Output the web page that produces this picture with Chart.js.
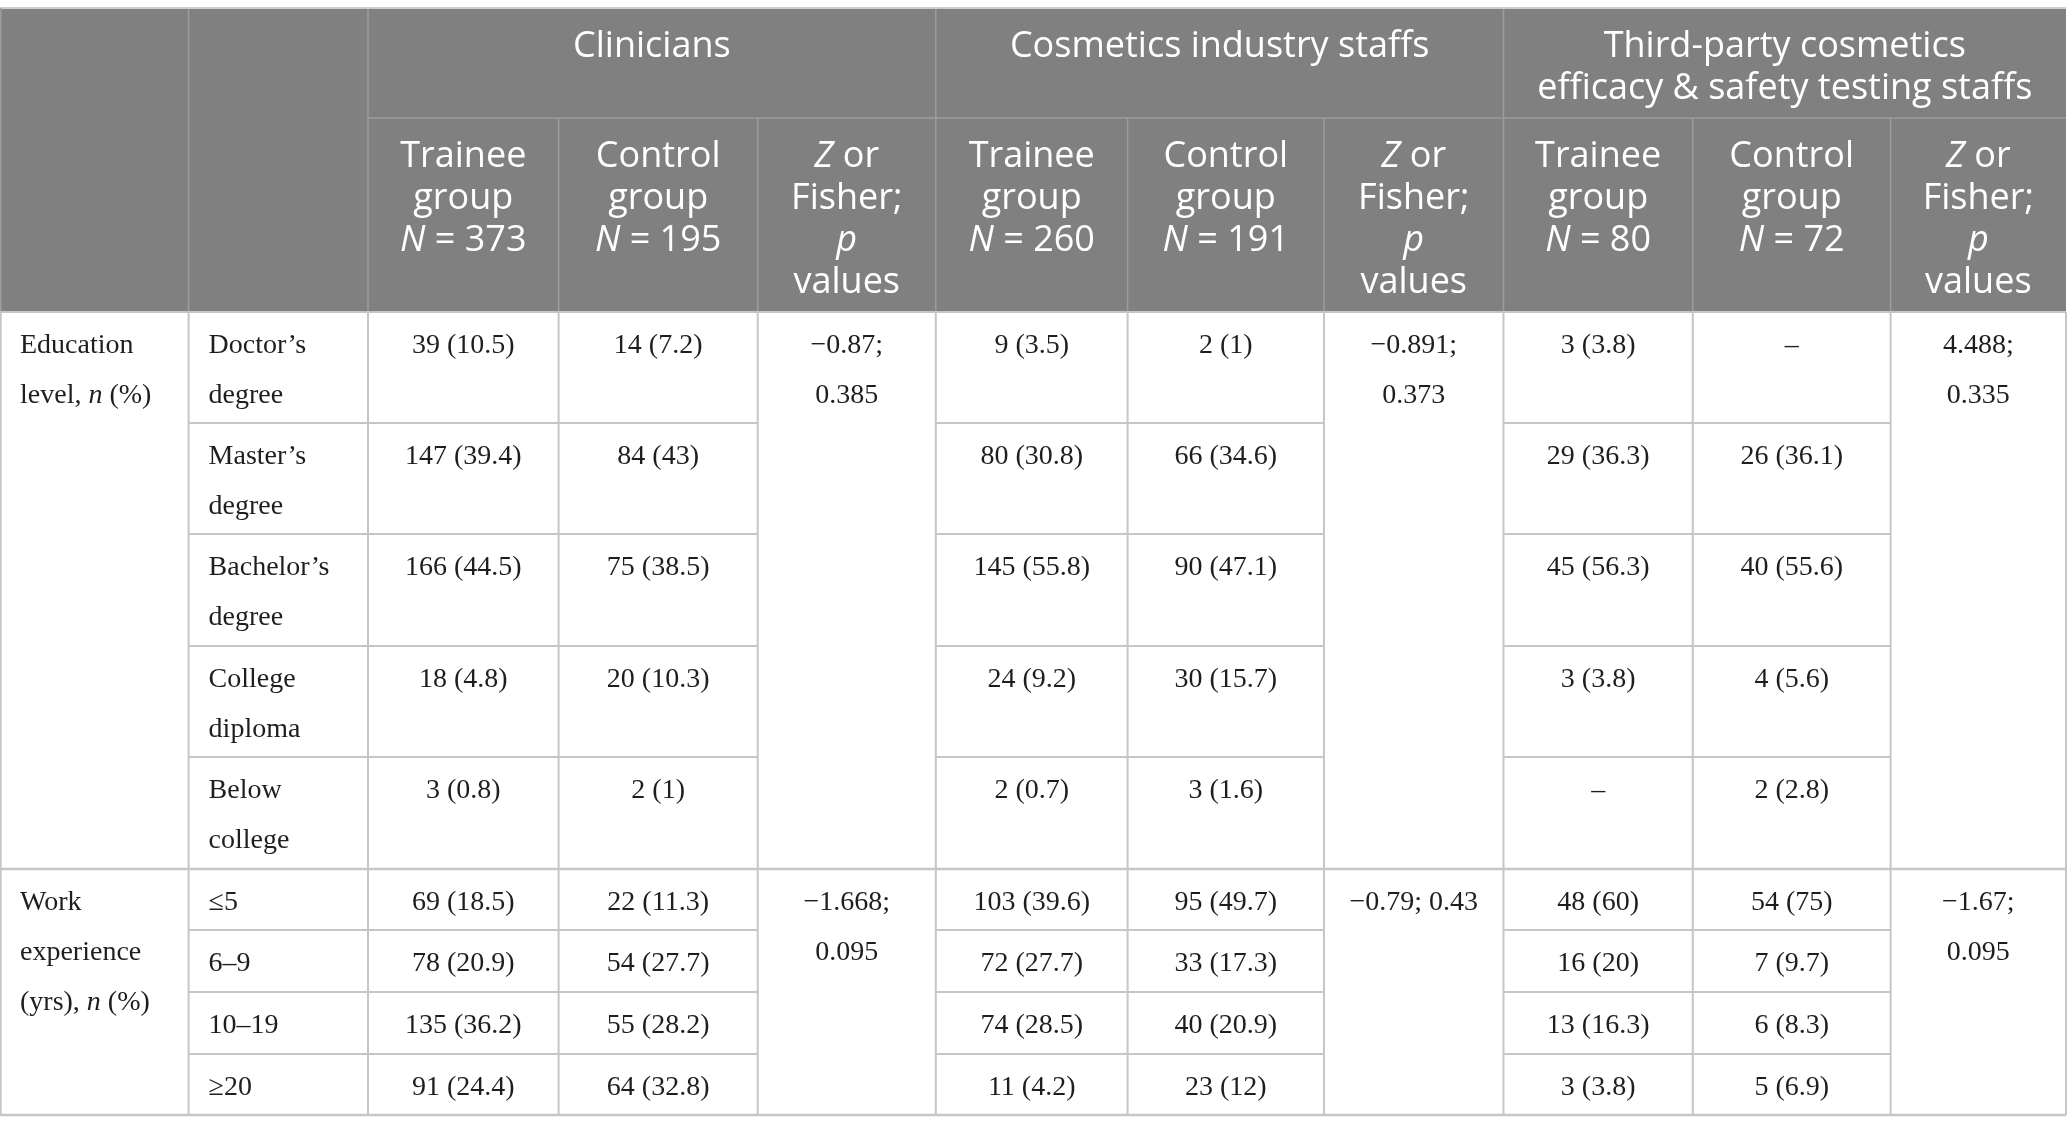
<!DOCTYPE html>
<html>
<head>
<meta charset="utf-8">
<script src="https://cdn.jsdelivr.net/npm/chart.js@4"></script>
<style>
  html, body { margin: 0; padding: 0; background: #ffffff; overflow: hidden; }
  #wrap { width: 2068px; height: 1134px; }
  canvas { display: block; }
</style>
</head>
<body>
<div id="wrap"><canvas id="c" width="2068" height="1134"></canvas></div>
<script>
// ---------------- DATA ----------------
const groups = ['Clinicians', 'Cosmetics industry staffs', 'Third-party cosmetics\nefficacy & safety testing staffs'];
const subHeaderTrainee = 'Trainee\ngroup\n*N* = ';
const subHeaderControl = 'Control\ngroup\n*N* = ';
const subHeaderStat = '*Z* or\nFisher;\n*p*\nvalues';
const groupTraineeN = [373, 260, 80];
const groupControlN = [195, 191, 72];
const sections = ['Education level, *n* (%)', 'Work experience (yrs), *n* (%)'];
const categories = ['Doctor’s degree', 'Master’s degree', 'Bachelor’s degree', 'College diploma', 'Below college', '≤5', '6–9', '10–19', '≥20'];
const sectionOf = [0, 0, 0, 0, 0, 1, 1, 1, 1];

const clinTraineeN   = [39, 147, 166, 18, 3, 69, 78, 135, 91];
const clinTraineePct = [10.5, 39.4, 44.5, 4.8, 0.8, 18.5, 20.9, 36.2, 24.4];
const clinControlN   = [14, 84, 75, 20, 2, 22, 54, 55, 64];
const clinControlPct = [7.2, 43, 38.5, 10.3, 1, 11.3, 27.7, 28.2, 32.8];
const indTraineeN    = [9, 80, 145, 24, 2, 103, 72, 74, 11];
const indTraineePct  = [3.5, 30.8, 55.8, 9.2, 0.7, 39.6, 27.7, 28.5, 4.2];
const indControlN    = [2, 66, 90, 30, 3, 95, 33, 40, 23];
const indControlPct  = [1, 34.6, 47.1, 15.7, 1.6, 49.7, 17.3, 20.9, 12];
const tpTraineeN     = [3, 29, 45, 3, null, 48, 16, 13, 3];
const tpTraineePct   = [3.8, 36.3, 56.3, 3.8, null, 60, 20, 16.3, 3.8];
const tpControlN     = [null, 26, 40, 4, 2, 54, 7, 6, 5];
const tpControlPct   = [null, 36.1, 55.6, 5.6, 2.8, 75, 9.7, 8.3, 6.9];

const clinStat = [[-0.87, 0.385], [-1.668, 0.095]];
const indStat  = [[-0.891, 0.373], [-0.79, 0.43]];
const tpStat   = [[4.488, 0.335], [-1.67, 0.095]];

// ---------------- LAYOUT (positions / styles, not data) ----------------
const W = 2068, H = 1134;
const colEdges = [0, 188.6, 368, 558.6, 757.7, 935.8, 1127.6, 1324, 1503.5, 1692.8, 1890.6, 2066];
const topLine = 8, headTop = 9, headMid = 118, headBot = 312;
const rowEdges = [312, 423, 534, 646, 757, 869, 930, 992, 1054, 1115];
const headFont = '"Open Sans", "Noto Sans", sans-serif';
const bodyFont = '"Liberation Serif", "DejaVu Serif", serif';
const headSize = 36, bodySize = 28;
const headLine = 42, bodyLine = 50;
const headBg = '#808080', headRule = '#9d9d9d', bodyRule = '#c6c6c6', outerRule = '#bdbdbd';
const headColor = '#ffffff', bodyColor = '#1e1e1e';

// ---------------- helpers ----------------
function fmtNum(v) { return String(v).replace('-', '\u2212'); }
function fmtCell(n, p) { return n === null ? '\u2013' : `${n} (${fmtNum(p)})`; }
function parseRich(str) {
  const segs = []; let italic = false;
  str.split('*').forEach((part, i) => { if (i > 0) italic = !italic; if (part) segs.push({ t: part, i: italic }); });
  return segs;
}
function fontStr(size, family, italic) { return `${italic ? 'italic ' : ''}${size}px ${family}`; }
function segWidth(ctx, segs, size, family) {
  let w = 0;
  segs.forEach(s => { ctx.font = fontStr(size, family, s.i); w += ctx.measureText(s.t).width; });
  return w;
}
// wrap rich text by words to maxWidth; explicit \n respected
function wrapRich(ctx, str, size, family, maxWidth) {
  const out = [];
  str.split('\n').forEach(para => {
    const words = para.split(' ');
    let cur = '';
    words.forEach(wd => {
      const trial = cur ? cur + ' ' + wd : wd;
      if (cur && segWidth(ctx, parseRich(trial), size, family) > maxWidth) { out.push(cur); cur = wd; }
      else cur = trial;
    });
    out.push(cur);
  });
  return out;
}
function drawRichLine(ctx, line, x, y, align, size, family, color) {
  const segs = parseRich(line);
  const w = segWidth(ctx, segs, size, family);
  let cx = align === 'center' ? x - w / 2 : x;
  ctx.fillStyle = color; ctx.textBaseline = 'alphabetic'; ctx.textAlign = 'left';
  segs.forEach(s => { ctx.font = fontStr(size, family, s.i); ctx.fillText(s.t, cx, y); cx += ctx.measureText(s.t).width; });
}

const tablePlugin = {
  id: 'tableDraw',
  afterDraw(chart) {
    const ctx = chart.ctx;
    const xs = chart.scales.x, ys = chart.scales.y;
    const X = v => xs.getPixelForValue(v);
    const Y = v => ys.getPixelForValue(v);
    const hline = (x0, x1, y, color, lw) => { ctx.strokeStyle = color; ctx.lineWidth = lw; ctx.beginPath(); ctx.moveTo(X(x0), Y(y)); ctx.lineTo(X(x1), Y(y)); ctx.stroke(); };
    const vline = (x, y0, y1, color, lw) => { ctx.strokeStyle = color; ctx.lineWidth = lw; ctx.beginPath(); ctx.moveTo(X(x), Y(y0)); ctx.lineTo(X(x), Y(y1)); ctx.stroke(); };
    ctx.save();

    // header background
    ctx.fillStyle = headBg;
    ctx.fillRect(X(colEdges[0]), Y(headTop), X(colEdges[11]) - X(colEdges[0]), Y(headBot) - Y(headTop));
    hline(colEdges[0], colEdges[11], topLine, outerRule, 1.5);

    // header rules
    hline(colEdges[2], colEdges[11], headMid, headRule, 1.5);
    [1, 2, 5, 8].forEach(i => vline(colEdges[i], headTop, headBot, headRule, 1.5));
    [3, 4, 6, 7, 9, 10].forEach(i => vline(colEdges[i], headMid, headBot, headRule, 1.5));
    vline(colEdges[0] + 0.75, topLine, headBot, headRule, 1.5);

    // header text
    groups.forEach((g, gi) => {
      const cx = (X(colEdges[2 + gi * 3]) + X(colEdges[5 + gi * 3])) / 2;
      g.split('\n').forEach((ln, li) => drawRichLine(ctx, ln, cx, Y(headTop + 48 + li * headLine), 'center', headSize, headFont, headColor));
      const subs = [subHeaderTrainee + groupTraineeN[gi], subHeaderControl + groupControlN[gi], subHeaderStat];
      subs.forEach((s, si) => {
        const c = 2 + gi * 3 + si;
        const sx = (X(colEdges[c]) + X(colEdges[c + 1])) / 2;
        s.split('\n').forEach((ln, li) => drawRichLine(ctx, ln, sx, Y(headMid + 49 + li * headLine), 'center', headSize, headFont, headColor));
      });
    });

    // body rules
    for (let i = 0; i < colEdges.length; i++) vline(colEdges[i] + (i === 0 ? 0.75 : 0), headBot, rowEdges[rowEdges.length - 1], bodyRule, 2);
    hline(colEdges[0], colEdges[11], headBot, bodyRule, 2);
    const secStart = [0, 5];
    hline(colEdges[0], colEdges[11], rowEdges[secStart[1]], bodyRule, 2.5);
    hline(colEdges[0], colEdges[11], rowEdges[rowEdges.length - 1], bodyRule, 2.5);
    categories.forEach((c, r) => {
      if (r === 0 || r === secStart[1]) return;
      const y = rowEdges[r];
      hline(colEdges[1], colEdges[4], y, bodyRule, 2);
      hline(colEdges[5], colEdges[7], y, bodyRule, 2);
      hline(colEdges[8], colEdges[10], y, bodyRule, 2);
    });

    // body text
    const pad = 20;
    sections.forEach((s, si) => {
      const top = rowEdges[secStart[si]];
      const lines = wrapRich(ctx, s, bodySize, bodyFont, colEdges[1] - colEdges[0] - 2 * pad + 8);
      lines.forEach((ln, li) => drawRichLine(ctx, ln, X(colEdges[0] + pad), Y(top + 41 + li * bodyLine), 'left', bodySize, bodyFont, bodyColor));
    });
    const cellCols = [
      [clinTraineeN, clinTraineePct, 2], [clinControlN, clinControlPct, 3],
      [indTraineeN, indTraineePct, 5], [indControlN, indControlPct, 6],
      [tpTraineeN, tpTraineePct, 8], [tpControlN, tpControlPct, 9]
    ];
    categories.forEach((cat, r) => {
      const top = rowEdges[r];
      const lines = wrapRich(ctx, cat, bodySize, bodyFont, colEdges[2] - colEdges[1] - 2 * pad);
      lines.forEach((ln, li) => drawRichLine(ctx, ln, X(colEdges[1] + pad), Y(top + 41 + li * bodyLine), 'left', bodySize, bodyFont, bodyColor));
      cellCols.forEach(([ns, ps, c]) => {
        const cx = (X(colEdges[c]) + X(colEdges[c + 1])) / 2;
        drawRichLine(ctx, fmtCell(ns[r], ps[r]), cx, Y(top + 41), 'center', bodySize, bodyFont, bodyColor);
      });
    });
    const stats = [[clinStat, 4], [indStat, 7], [tpStat, 10]];
    stats.forEach(([st, c]) => {
      st.forEach((pair, si) => {
        const top = rowEdges[secStart[si]];
        const txt = `${fmtNum(pair[0])}; ${fmtNum(pair[1])}`;
        const lines = wrapRich(ctx, txt, bodySize, bodyFont, colEdges[c + 1] - colEdges[c] - 44);
        const cx = (X(colEdges[c]) + X(colEdges[c + 1])) / 2;
        lines.forEach((ln, li) => drawRichLine(ctx, ln, cx, Y(top + 41 + li * bodyLine), 'center', bodySize, bodyFont, bodyColor));
      });
    });
    ctx.restore();
  }
};

const chart = new Chart(document.getElementById('c').getContext('2d'), {
  type: 'scatter',
  data: { datasets: [{ data: [], pointRadius: 0 }] },
  options: {
    responsive: false,
    animation: false,
    devicePixelRatio: 1,
    layout: { padding: 0 },
    plugins: { legend: { display: false }, tooltip: { enabled: false }, title: { display: false } },
    scales: {
      x: { type: 'linear', min: 0, max: W, display: false },
      y: { type: 'linear', min: 0, max: H, reverse: true, display: false }
    }
  },
  plugins: [tablePlugin]
});
</script>
</body>
</html>
